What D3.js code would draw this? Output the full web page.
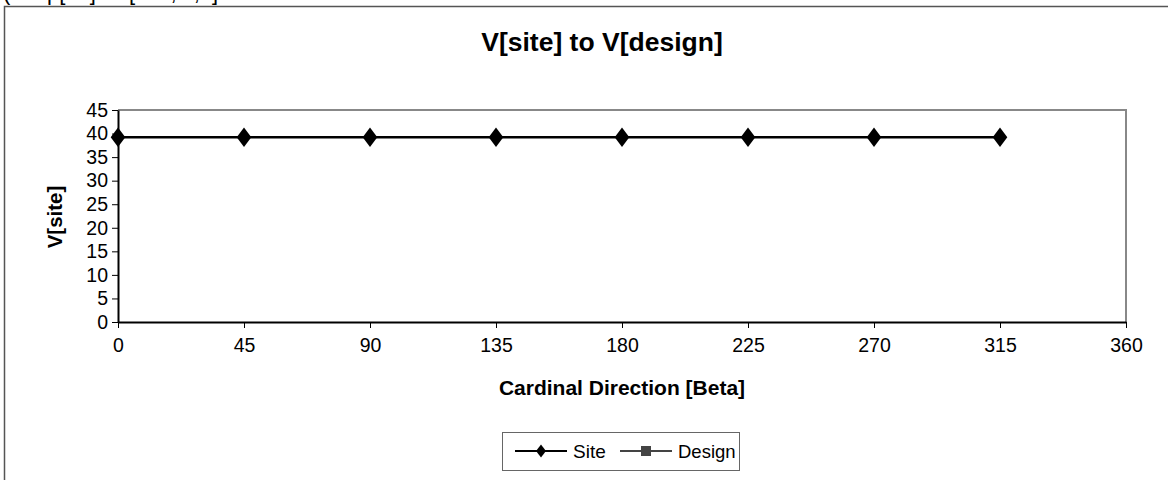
<!DOCTYPE html>
<html><head><meta charset="utf-8">
<script src="https://cdn.jsdelivr.net/npm/d3@7"></script>
<style>body{margin:0;background:#fff}svg{display:block;font-family:"Liberation Sans",Arial,sans-serif}</style>
</head><body><svg id="c" width="1168" height="480"></svg>
<script>
const directions = [0, 45, 90, 135, 180, 225, 270, 315];
const siteValues = [39.2, 39.2, 39.2, 39.2, 39.2, 39.2, 39.2, 39.2];
const designValues = [];
const xTicks = [0, 45, 90, 135, 180, 225, 270, 315, 360];
const yTicks = [0, 5, 10, 15, 20, 25, 30, 35, 40, 45];
const titleText = "V[site] to V[design]";
const xTitle = "Cardinal Direction [Beta]";
const yTitle = "V[site]";
const topCutText = "(0.5 p[air] / V[des,O,d]";
const seriesNames = ["Site", "Design"];

const svg = d3.select("#c");
const m = {l:118, r:1126, t:110, b:322};
const x = d3.scaleLinear().domain([0,360]).range([m.l, m.r]);
const y = d3.scaleLinear().domain([0,45]).range([m.b, m.t]);

svg.append("text").attr("x",3).attr("y",0).attr("font-size",22).attr("fill","#000").text(topCutText);
// outer border
svg.append("rect").attr("x",4.5).attr("y",6.5).attr("width",1200).attr("height",500)
  .attr("fill","#fff").attr("stroke","#555").attr("stroke-width",1.5);

// plot frame (gray top/right)
svg.append("path").attr("d",`M${m.l},${m.t}H${m.r}V${m.b}`).attr("fill","none").attr("stroke","#888").attr("stroke-width",2);

const xa = svg.append("g").attr("transform",`translate(0,${m.b})`)
  .call(d3.axisBottom(x).tickValues(xTicks).tickSize(6).tickPadding(10).tickSizeOuter(0));
const ya = svg.append("g").attr("transform",`translate(${m.l},0)`)
  .call(d3.axisLeft(y).tickValues(yTicks).tickSize(6).tickPadding(4).tickSizeOuter(0));
[xa,ya].forEach(a=>{
  a.selectAll("path").attr("stroke","#000").attr("stroke-width",2);
  a.selectAll("line").attr("stroke","#000").attr("stroke-width",1);
  a.selectAll("text").attr("font-size",19.5).attr("fill","#000").attr("font-family","Liberation Sans, Arial, sans-serif");
});

const line = d3.line().x((d,i)=>x(directions[i])).y(d=>y(d));
svg.append("path").datum(designValues).attr("d",line).attr("fill","none").attr("stroke","#444").attr("stroke-width",2.5);
svg.selectAll(".dsq").data(designValues).enter().append("rect")
  .attr("x",(d,i)=>x(directions[i])-5).attr("y",d=>y(d)-5).attr("width",10).attr("height",10).attr("fill","#444");
svg.append("path").datum(siteValues).attr("d",line).attr("fill","none").attr("stroke","#000").attr("stroke-width",2.5);
const dia = d3.symbol().type(d3.symbolDiamond).size(110);
svg.selectAll(".sd").data(siteValues).enter().append("path")
  .attr("d",dia).attr("transform",(d,i)=>`translate(${x(directions[i])},${y(d)}) scale(1.3,1)`).attr("fill","#000");

svg.append("text").attr("x",602).attr("y",51).attr("text-anchor","middle").attr("font-size",26.5).attr("font-weight","bold").text(titleText);
svg.append("text").attr("x",622).attr("y",395).attr("text-anchor","middle").attr("font-size",21).attr("font-weight","bold").text(xTitle);
svg.append("text").attr("transform",`translate(62,217) rotate(-90)`).attr("text-anchor","middle").attr("font-size",20.5).attr("font-weight","bold").text(yTitle);

// legend
const lg = svg.append("g");
lg.append("rect").attr("x",502.5).attr("y",432.5).attr("width",237).attr("height",38).attr("fill","#fff").attr("stroke","#666").attr("stroke-width",1);
lg.append("line").attr("x1",515).attr("x2",567).attr("y1",451).attr("y2",451).attr("stroke","#000").attr("stroke-width",2);
lg.append("path").attr("d",d3.symbol().type(d3.symbolDiamond).size(50)).attr("transform","translate(541,451) scale(1.3,1)").attr("fill","#000");
lg.append("text").attr("x",573).attr("y",458).attr("font-size",19).text(seriesNames[0]);
lg.append("line").attr("x1",620).attr("x2",672).attr("y1",451).attr("y2",451).attr("stroke","#444").attr("stroke-width",2);
lg.append("rect").attr("x",641).attr("y",446).attr("width",10).attr("height",10).attr("fill","#444");
lg.append("text").attr("x",678).attr("y",458).attr("font-size",18.5).text(seriesNames[1]);
</script></body></html>
